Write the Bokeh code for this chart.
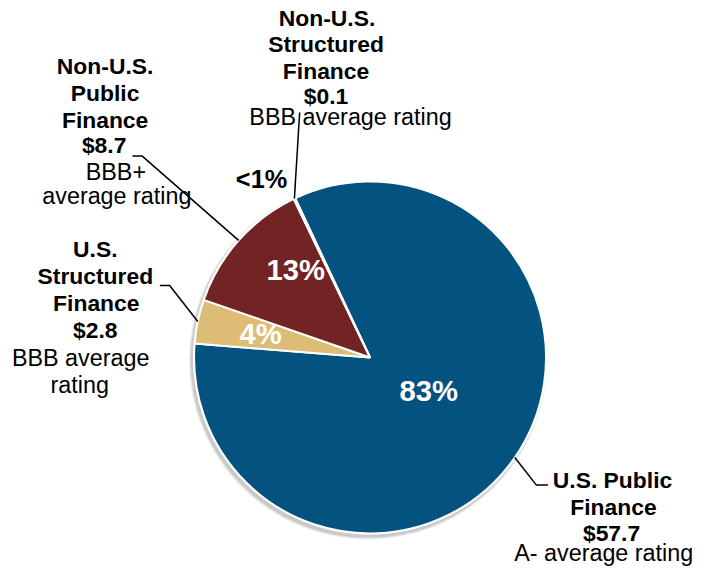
import numpy as np
from bokeh.plotting import figure
from bokeh.models import Range1d, Label
from bokeh.embed import file_html
from bokeh.resources import INLINE

# ---- data ----
categories = ["U.S. Public Finance", "U.S. Structured Finance",
              "Non-U.S. Public Finance", "Non-U.S. Structured Finance"]
amounts = [57.7, 2.8, 8.7, 0.1]          # $ billions
pct_labels = ["83%", "4%", "13%", "<1%"]
amount_labels = ["$57.7", "$2.8", "$8.7", "$0.1"]
ratings = ["A- average rating", "BBB average rating",
           "BBB+ average rating", "BBB average rating"]
colors = ["#03527F", "#DDBC76", "#722424", "#8C8C8C"]

# canvas size and layout space (layout is expressed in a 715 x 585 space)
W, H = 699, 569
LW, LH = 715, 585
SX, SY = W / LW, H / LH
FONT = "Liberation Sans"
K = 0.40   # measured offset of the rendered baseline below the label anchor (em)


def X(px):
    return px


def Y(py):
    return LH - py


p = figure(width=W, height=H, output_backend="svg", toolbar_location=None,
           title=None,
           x_range=Range1d(0, LW), y_range=Range1d(0, LH),
           x_axis_type=None, y_axis_type=None,
           min_border=0, min_border_left=0, min_border_right=0,
           min_border_top=0, min_border_bottom=0)
p.grid.visible = False
p.outline_line_color = None
p.background_fill_color = "white"
p.border_fill_color = "white"

cx, cy, R = X(378), Y(367), 180.0

# shadow (light from upper right)
for dr, a in [(3.5, 0.05), (2.5, 0.07), (1.5, 0.10)]:
    p.circle(x=[cx - 2], y=[cy - 3], radius=R + dr, fill_color="black",
             fill_alpha=a, line_color=None)
p.circle(x=[cx], y=[cy], radius=R + 1.2, fill_color="white", line_color=None)

# wedges (clockwise from start angle)
vals = np.array(amounts, dtype=float)
frac = vals / vals.sum()
theta0 = np.deg2rad(115.2)
cum_after = np.cumsum(frac) * 2 * np.pi
cum_before = cum_after - frac * 2 * np.pi
starts = theta0 - cum_after
ends = theta0 - cum_before
p.wedge(x=cx, y=cy, radius=R, start_angle=list(starts), end_angle=list(ends),
        fill_color=colors, line_color="white", line_width=2)

mids = (starts + ends) / 2


def edge(i):
    return cx + R * np.cos(mids[i]), cy + R * np.sin(mids[i]) * SX / SY


def txt(s, x, y, size, bold=False, color="black"):
    fs = size * SY
    anchor = y - K * fs / SY
    p.add_layout(Label(x=X(x), y=Y(anchor), text=s, text_font=FONT,
                       text_font_size=f"{fs:.2f}px",
                       text_font_style="bold" if bold else "normal",
                       text_color=color, text_align="center",
                       text_baseline="alphabetic"))


def leader(i, pts):
    ex, ey = edge(i)
    xs = [ex] + [X(a) for a, b in pts]
    ys = [ey] + [Y(b) for a, b in pts]
    p.line(xs, ys, line_color="black", line_width=1.5)


BS, NS = 23.5, 24

# U.S. Public Finance (index 0)
leader(0, [(548, 498), (560, 498)])
txt("U.S. Public", 626, 502, BS, True)
txt("Finance", 627, 530, BS, True)
txt(amount_labels[0], 625, 557, BS, True)
txt(ratings[0], 617, 578, NS)

# U.S. Structured Finance (index 1)
leader(1, [(173, 293), (163, 293)])
txt("U.S.", 97, 265, BS, True)
txt("Structured", 97, 293, BS, True)
txt("Finance", 98, 320, BS, True)
txt(amount_labels[1], 97, 348, BS, True)
txt("BBB average", 82, 377, NS)
txt("rating", 81, 405, NS)

# Non-U.S. Public Finance (index 2)
leader(2, [(145, 160), (135, 160)])
txt("Non-U.S.", 107, 77, BS, True)
txt("Public", 107, 105, BS, True)
txt("Finance", 107, 132, BS, True)
txt(amount_labels[2], 106, 158, BS, True)
txt("BBB+", 118, 186, NS)
txt("average rating", 119, 211, NS)

# Non-U.S. Structured Finance (index 3)
leader(3, [(306, 115)])
txt("Non-U.S.", 334, 27, BS, True)
txt("Structured", 333, 54, BS, True)
txt("Finance", 333, 82, BS, True)
txt(amount_labels[3], 333, 108, BS, True)
txt(ratings[3], 358, 129, NS)

# percentages
txt(pct_labels[0], 438, 413, 30, True, "white")
txt(pct_labels[1], 266, 355, 30, True, "white")
txt(pct_labels[2], 302, 289, 30, True, "white")
txt(pct_labels[3], 267, 194, 26, True, "black")

open("out.html", "w").write(file_html(p, INLINE))
